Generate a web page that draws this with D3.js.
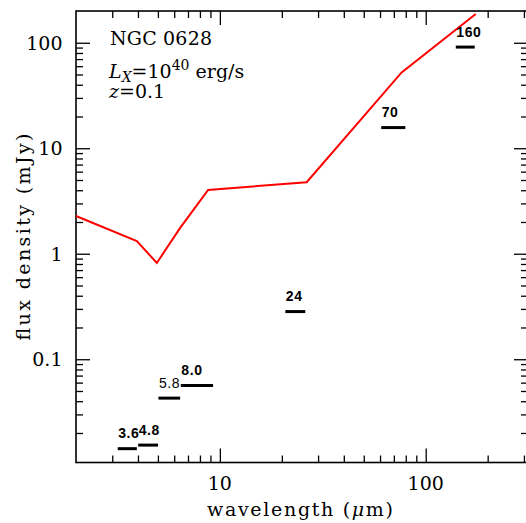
<!DOCTYPE html>
<html>
<head>
<meta charset="utf-8">
<script src="https://cdn.jsdelivr.net/npm/d3@7"></script>
<style>
  html, body { margin: 0; padding: 0; background: #fff; }
  svg { display: block; }
</style>
</head>
<body>
<svg id="chart" width="526" height="523"></svg>
<script>
// ---- data ----
const modelWavelength = [2.0, 3.95, 4.94, 6.4, 8.77, 26.4, 76.4, 175];
const modelFlux = [2.28, 1.32, 0.818, 1.75, 4.03, 4.77, 52.4, 187];

const bandLabels = ["3.6", "4.8", "5.8", "8.0", "24", "70", "160"];
const bandLow = [3.19, 4.01, 5.03, 6.46, 20.8, 60.8, 140];
const bandHigh = [3.95, 5.01, 6.41, 9.27, 26.0, 79.6, 173];
const bandFlux = [0.0142, 0.01535, 0.0428, 0.0565, 0.283, 15.7, 91];

const xMajorTicks = [10, 100];
const xMajorLabels = ["10", "100"];
const xMinorTicks = [3, 4, 5, 6, 7, 8, 9, 20, 30, 40, 50, 60, 70, 80, 90, 200, 300];
const yMajorTicks = [0.1, 1, 10, 100];
const yMajorLabels = ["0.1", "1", "10", "100"];
const yMinorTicks = [0.02, 0.03, 0.04, 0.05, 0.06, 0.07, 0.08, 0.09,
                     0.2, 0.3, 0.4, 0.5, 0.6, 0.7, 0.8, 0.9,
                     2, 3, 4, 5, 6, 7, 8, 9,
                     20, 30, 40, 50, 60, 70, 80, 90];

// ---- layout ----
const L = 76, R = 528, T = 11, B = 462.5;
const svg = d3.select("#chart");
const x = d3.scaleLog().domain([2, 314]).range([L, R]);
const y = d3.scaleLog().domain([0.0105, 200]).range([B, T]);

const serif = "'DejaVu Serif', serif";
const sans = "'Liberation Sans', Arial, sans-serif";
const majorLen = 14, minorLen = 7;

function styleAxis(g) {
  g.select(".domain").remove();
  g.selectAll(".tick line").attr("stroke", "#000").attr("stroke-width", 1.3);
  g.selectAll(".tick text").remove();
}
// bottom (ticks point up/inwards)
svg.append("g").attr("transform", `translate(0,${B})`)
  .call(d3.axisTop(x).tickValues(xMajorTicks).tickSize(majorLen)).call(styleAxis);
svg.append("g").attr("transform", `translate(0,${B})`)
  .call(d3.axisTop(x).tickValues(xMinorTicks).tickSize(minorLen)).call(styleAxis);
// top (ticks point down)
svg.append("g").attr("transform", `translate(0,${T})`)
  .call(d3.axisBottom(x).tickValues(xMajorTicks).tickSize(majorLen)).call(styleAxis);
svg.append("g").attr("transform", `translate(0,${T})`)
  .call(d3.axisBottom(x).tickValues(xMinorTicks).tickSize(minorLen)).call(styleAxis);
// left (ticks point right)
svg.append("g").attr("transform", `translate(${L},0)`)
  .call(d3.axisRight(y).tickValues(yMajorTicks).tickSize(majorLen)).call(styleAxis);
svg.append("g").attr("transform", `translate(${L},0)`)
  .call(d3.axisRight(y).tickValues(yMinorTicks).tickSize(minorLen)).call(styleAxis);
// right (ticks point left)
svg.append("g").attr("transform", `translate(${R},0)`)
  .call(d3.axisLeft(y).tickValues(yMajorTicks).tickSize(majorLen)).call(styleAxis);
svg.append("g").attr("transform", `translate(${R},0)`)
  .call(d3.axisLeft(y).tickValues(yMinorTicks).tickSize(minorLen)).call(styleAxis);

// frame
svg.append("rect").attr("x", L).attr("y", T).attr("width", R - L).attr("height", B - T)
  .attr("fill", "none").attr("stroke", "#000").attr("stroke-width", 1.6);

// tick labels
svg.append("g").selectAll("text").data(xMajorTicks).join("text")
  .attr("x", d => x(d)).attr("y", 490)
  .attr("text-anchor", "middle").attr("font-family", serif).attr("font-size", 19)
  .text((d, i) => xMajorLabels[i]);
svg.append("g").selectAll("text").data(yMajorTicks).join("text")
  .attr("x", 62.5).attr("y", d => y(d) + 7)
  .attr("text-anchor", "end").attr("font-family", serif).attr("font-size", 19)
  .text((d, i) => yMajorLabels[i]);

// axis titles
const xt = svg.append("text").attr("x", 300).attr("y", 516)
  .attr("text-anchor", "middle").attr("font-family", serif).attr("font-size", 19)
  .attr("textLength", 186).attr("lengthAdjust", "spacing");
xt.append("tspan").text("wavelength (");
xt.append("tspan").attr("font-style", "italic").text("μ");
xt.append("tspan").text("m)");

svg.append("text").attr("transform", `translate(30,237) rotate(-90)`)
  .attr("text-anchor", "middle").attr("font-family", serif).attr("font-size", 19)
  .attr("textLength", 207).attr("lengthAdjust", "spacing")
  .text("flux density (mJy)");

// model line
const pts = modelWavelength.map((w, i) => [w, modelFlux[i]]);
svg.append("path").datum(pts)
  .attr("d", d3.line().x(d => x(d[0])).y(d => y(d[1])))
  .attr("fill", "none").attr("stroke", "#ff0000").attr("stroke-width", 2)
  .attr("stroke-linejoin", "miter");

// band bars
const bands = bandLabels.map((lab, i) => ({lab, lo: bandLow[i], hi: bandHigh[i], f: bandFlux[i]}));
svg.append("g").selectAll("line").data(bands).join("line")
  .attr("x1", d => x(d.lo)).attr("x2", d => x(d.hi))
  .attr("y1", d => y(d.f)).attr("y2", d => y(d.f))
  .attr("stroke", "#000").attr("stroke-width", 3);
const regularWeight = new Set(["5.8"]);
svg.append("g").selectAll("text").data(bands).join("text")
  .attr("x", d => x(d.lo) + 0.5).attr("y", d => y(d.f) - 10.5)
  .attr("font-family", sans).attr("font-size", 14).attr("letter-spacing", 0.6)
  .attr("font-weight", d => regularWeight.has(d.lab) ? "normal" : "bold")
  .text(d => d.lab);

// annotation text
svg.append("text").attr("x", 110).attr("y", 44.5)
  .attr("font-family", serif).attr("font-size", 19)
  .attr("textLength", 102).attr("lengthAdjust", "spacing")
  .text("NGC 0628");

const lx = svg.append("text").attr("x", 109).attr("y", 77.7)
  .attr("font-family", serif).attr("font-size", 19);
lx.append("tspan").attr("font-style", "italic").text("L");
lx.append("tspan").attr("font-style", "italic").attr("font-size", 14).attr("dy", 4).text("X");
lx.append("tspan").attr("dy", -4).text("=10");
lx.append("tspan").attr("font-size", 14).attr("dy", -8).text("40");
lx.append("tspan").attr("dy", 8).text(" erg/s");

const zt = svg.append("text").attr("x", 109).attr("y", 98)
  .attr("font-family", serif).attr("font-size", 19);
zt.append("tspan").attr("font-style", "italic").text("z");
zt.append("tspan").text("=0.1");
</script>
</body>
</html>
